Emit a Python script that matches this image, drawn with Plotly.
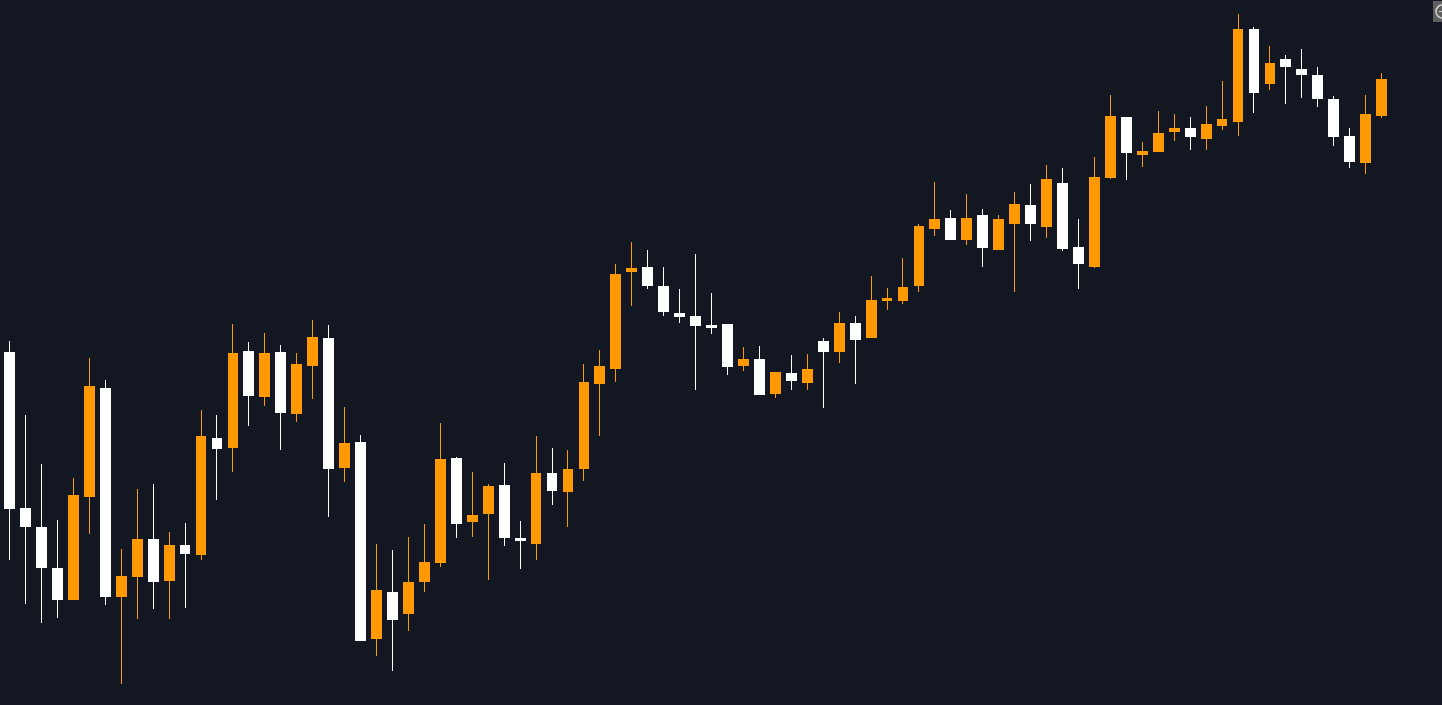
import plotly.graph_objects as go

# prices, arbitrary scale (no axis is shown)
open_ = [353, 197, 178, 137, 105, 208, 317, 108, 128, 166, 124, 160, 150, 267, 257, 354, 308, 353, 291, 339, 367, 237,
         263, 66, 113, 91, 123, 142, 247, 183, 191, 220, 167, 161, 232, 213, 236, 321, 336, 433, 438, 419, 392, 389,
         380, 381, 339, 346, 311, 332, 322, 364, 353, 382, 367, 404, 404, 419, 476, 487, 465, 490, 455, 481, 500, 478,
         522, 458, 438, 527, 588, 550, 553, 573, 577, 566, 579, 583, 676, 621, 646, 636, 630, 606, 569, 542, 589]
high = [364, 290, 241, 185, 227, 347, 325, 156, 216, 221, 173, 182, 295, 290, 381, 363, 372, 360, 352, 385, 380, 298,
        270, 161, 155, 168, 181, 282, 248, 233, 221, 242, 184, 269, 257, 255, 341, 355, 441, 463, 455, 438, 416, 451,
        412, 381, 358, 359, 333, 350, 351, 367, 393, 389, 429, 417, 447, 481, 523, 495, 511, 496, 490, 513, 521, 540,
        537, 486, 548, 610, 588, 563, 594, 591, 588, 599, 624, 691, 678, 659, 650, 656, 638, 609, 577, 610, 632]
low = [145, 101, 82, 87, 105, 171, 100, 21, 86, 96, 86, 97, 145, 205, 233, 279, 299, 255, 283, 306, 188, 223,
       64, 49, 34, 74, 113, 138, 167, 168, 125, 159, 136, 145, 200, 178, 224, 269, 323, 399, 416, 389, 382, 315,
       371, 330, 334, 310, 307, 315, 315, 297, 342, 321, 367, 395, 401, 413, 469, 465, 460, 438, 455, 413, 464, 467,
       454, 416, 437, 526, 525, 538, 553, 564, 555, 555, 575, 569, 592, 615, 601, 607, 598, 559, 537, 531, 587]
close = [196, 178, 137, 105, 210, 319, 108, 129, 166, 123, 160, 151, 269, 256, 352, 309, 352, 292, 341, 368, 236, 262,
         64, 115, 85, 123, 143, 246, 181, 190, 219, 167, 164, 232, 214, 236, 323, 339, 431, 437, 419, 393, 388, 379,
         377, 338, 346, 310, 333, 324, 336, 353, 382, 365, 405, 407, 418, 479, 486, 465, 487, 457, 486, 501, 481, 526,
         456, 441, 528, 589, 552, 554, 572, 577, 568, 581, 586, 676, 612, 642, 638, 630, 606, 568, 543, 591, 626]

bg_color = "#131722"
up_color = "#ff9900"
down_color = "#ffffff"

x = list(range(len(close)))

# the 1px outline adds a pixel under each body, so lift the lower body edge by one
stroke = 1
open_plot = [o + stroke if c > o else o for o, c in zip(open_, close)]
close_plot = [c + stroke if c < o else c for o, c in zip(open_, close)]
low_plot = [l + stroke if l == min(o, c) else l for l, o, c in zip(low, open_, close)]

fig = go.Figure(go.Candlestick(
    x=x, open=open_plot, high=high, low=low_plot, close=close_plot,
    increasing=dict(line=dict(color=up_color, width=1), fillcolor=up_color),
    decreasing=dict(line=dict(color=down_color, width=1), fillcolor=down_color),
    whiskerwidth=0,
    hoverinfo="none",
))

fig.update_layout(
    width=1442, height=705,
    margin=dict(l=0, r=0, t=0, b=0),
    paper_bgcolor=bg_color, plot_bgcolor=bg_color,
    showlegend=False,
    boxgap=0.12,
    xaxis=dict(visible=False, range=[-0.6, 89.785], rangeslider=dict(visible=False)),
    yaxis=dict(visible=False, range=[0, 705]),
)

# little zoom button cut off by the right edge
px = 1 / 1442
py = 1 / 705
fig.add_shape(type="rect", xref="paper", yref="paper", layer="above",
              x0=1433 * px, x1=1, y0=1 - 22 * py, y1=1 - 1 * py,
              fillcolor="#5f5f5f", line_width=0)
fig.add_shape(type="circle", xref="paper", yref="paper", layer="above",
              x0=1436 * px, x1=1449 * px, y0=1 - 18 * py, y1=1 - 5 * py,
              fillcolor="rgba(0,0,0,0)", line=dict(color="#d0d0d0", width=1.5))
fig.add_shape(type="line", xref="paper", yref="paper", layer="above",
              x0=1439 * px, x1=1, y0=1 - 11.5 * py, y1=1 - 11.5 * py,
              line=dict(color="#d0d0d0", width=1))

crisp = """
var s = document.createElement('style');
s.textContent = 'html,body{margin:0;padding:0;overflow:hidden}'
  + '.boxlayer path{shape-rendering:crispEdges;stroke-linejoin:miter}';
document.head.appendChild(s);
"""

fig.write_html("out.html", config=dict(displayModeBar=False), post_script=crisp)
